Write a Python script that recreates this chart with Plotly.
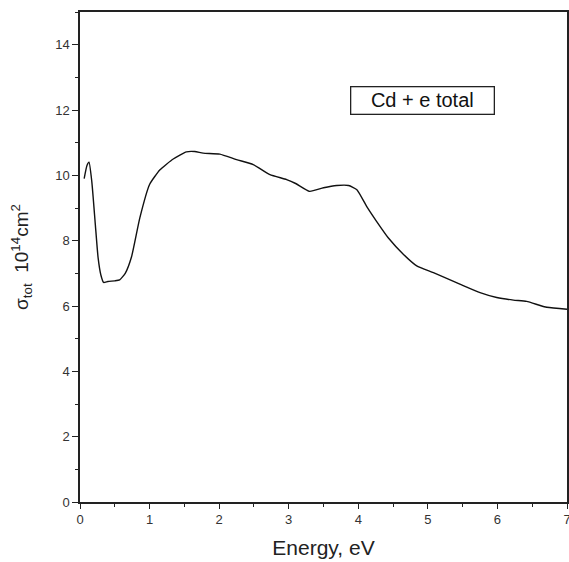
import plotly.graph_objects as go

energy = [0.06, 0.10, 0.13, 0.17, 0.22, 0.26, 0.30, 0.34, 0.40, 0.50, 0.57, 0.65, 0.74, 0.86,
          1.00, 1.15, 1.34, 1.53, 1.65, 1.77, 2.01, 2.25, 2.49, 2.73, 2.97, 3.10, 3.30, 3.50,
          3.69, 3.86, 3.98, 4.12, 4.26, 4.43, 4.65, 4.84, 5.08, 5.46, 5.75, 5.99, 6.23, 6.42,
          6.71, 7.00]
sigma = [9.9, 10.3, 10.4, 9.8, 8.5, 7.48, 6.95, 6.72, 6.75, 6.77, 6.8, 7.0, 7.5, 8.7,
         9.72, 10.17, 10.5, 10.72, 10.73, 10.68, 10.65, 10.48, 10.33, 10.02, 9.87, 9.75, 9.51, 9.62,
         9.69, 9.69, 9.56, 9.05, 8.6, 8.09, 7.58, 7.23, 7.02, 6.67, 6.41, 6.26, 6.18, 6.14,
         5.96, 5.9]

x_ticks = [0, 1, 2, 3, 4, 5, 6, 7]
y_ticks = [0, 2, 4, 6, 8, 10, 12, 14]
legend_text = "Cd + e total"

fig = go.Figure()
fig.add_trace(go.Scatter(x=energy, y=sigma, mode="lines",
                         line=dict(color="#111111", width=1.4, shape="spline", smoothing=0.5),
                         showlegend=False, cliponaxis=False, hoverinfo="skip"))

fig.add_annotation(x=4.92, y=12.3, xref="x", yref="y", text=legend_text, showarrow=False,
                   width=138, height=22, align="center",
                   font=dict(family="Liberation Sans, Arial", size=20, color="#111111"),
                   bordercolor="#222222", borderwidth=1.3, borderpad=2, bgcolor="white")

axis_font = dict(family="Liberation Sans, Arial", size=13, color="#333333")
fig.update_layout(
    width=569, height=562,
    margin=dict(l=80, r=2, t=12, b=60),
    paper_bgcolor="white", plot_bgcolor="white",
    xaxis=dict(range=[0, 7], tickvals=x_ticks, ticks="outside", ticklen=5, tickwidth=1.2,
               tickcolor="#222222", showline=True, linecolor="#222222", linewidth=1.5,
               mirror=True, showgrid=False, zeroline=False, tickfont=axis_font, automargin=False,
               ticklabeloverflow="allow",
               minor=dict(dtick=0.5, ticks="outside", ticklen=3, tickcolor="#222222"),
               title=dict(text="Energy, eV", font=dict(family="Liberation Sans, Arial", size=21, color="#222222"),
                          standoff=14)),
    yaxis=dict(range=[0, 15], tickvals=y_ticks, ticks="outside", ticklen=6, tickwidth=1.2,
               tickcolor="#222222", showline=True, linecolor="#222222", linewidth=1.5,
               mirror=True, showgrid=False, zeroline=False, tickfont=axis_font, automargin=False,
               minor=dict(dtick=1, ticks="outside", ticklen=3, tickcolor="#222222"),
               title=dict(text="σ<sub>tot</sub>  10<sup>14</sup>cm<sup>2</sup>",
                          font=dict(family="Liberation Sans, Arial", size=19, color="#222222"),
                          standoff=22)),
)

fig.write_html("out.html", config={"displayModeBar": False},
               post_script="document.body.style.margin='0';document.body.style.overflow='hidden';")
